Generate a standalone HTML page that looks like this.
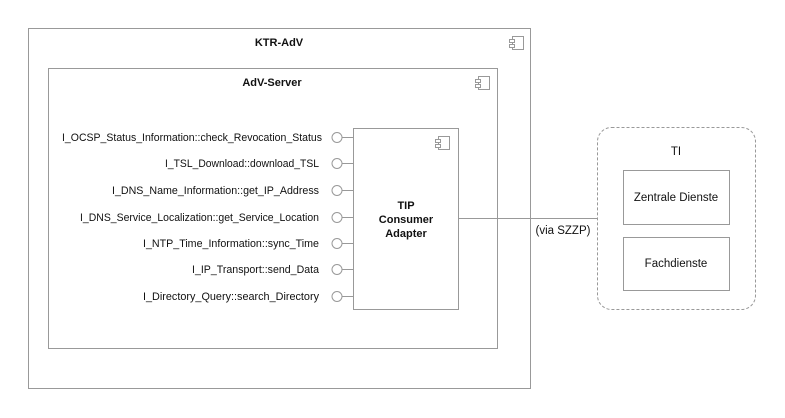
<!DOCTYPE html>
<html><head><meta charset="utf-8"><style>
html,body{margin:0;padding:0;background:#fff;}
svg{display:block;}
text{font-family:"Liberation Sans",sans-serif;fill:#111;}
</style></head><body>
<svg width="785" height="418" viewBox="0 0 785 418" xmlns="http://www.w3.org/2000/svg">
<g fill="none" stroke="#999" stroke-width="1">
<rect x="28.5" y="28.5" width="502" height="360"/>
<rect x="48.5" y="68.5" width="449" height="280"/>
<rect x="353.5" y="128.5" width="105" height="181"/>
<rect x="597.5" y="127.5" width="158" height="182" rx="14" stroke-dasharray="3,2"/>
<rect x="623.5" y="170.5" width="106" height="54"/>
<rect x="623.5" y="237.5" width="106" height="53"/>
<line x1="458.5" y1="218.5" x2="597.5" y2="218.5"/>
<rect x="512.5" y="36.5" width="11" height="13"/><rect x="509.5" y="39.5" width="5" height="3" fill="#fff"/><rect x="509.5" y="44.5" width="5" height="3" fill="#fff"/>
<rect x="478.5" y="76.5" width="11" height="13"/><rect x="475.5" y="79.5" width="5" height="3" fill="#fff"/><rect x="475.5" y="84.5" width="5" height="3" fill="#fff"/>
<rect x="438.5" y="136.5" width="11" height="13"/><rect x="435.5" y="139.5" width="5" height="3" fill="#fff"/><rect x="435.5" y="144.5" width="5" height="3" fill="#fff"/>
</g>
<g fill="#fff" stroke="#999">
<line x1="342" y1="137.5" x2="353" y2="137.5"/><circle cx="337" cy="137.5" r="5"/>
<line x1="342" y1="163.5" x2="353" y2="163.5"/><circle cx="337" cy="163.5" r="5"/>
<line x1="342" y1="190.5" x2="353" y2="190.5"/><circle cx="337" cy="190.5" r="5"/>
<line x1="342" y1="217.5" x2="353" y2="217.5"/><circle cx="337" cy="217.5" r="5"/>
<line x1="342" y1="243.5" x2="353" y2="243.5"/><circle cx="337" cy="243.5" r="5"/>
<line x1="342" y1="269.5" x2="353" y2="269.5"/><circle cx="337" cy="269.5" r="5"/>
<line x1="342" y1="296.5" x2="353" y2="296.5"/><circle cx="337" cy="296.5" r="5"/>
</g>
<g font-size="11" font-weight="bold" text-anchor="middle">
<text x="279" y="46">KTR-AdV</text>
<text x="272" y="86">AdV-Server</text>
<text x="406" y="209">TIP</text>
<text x="406" y="223">Consumer</text>
<text x="406" y="237">Adapter</text>
</g>
<g font-size="11.3" text-anchor="end">
<text x="322" y="141" textLength="260" lengthAdjust="spacingAndGlyphs">I_OCSP_Status_Information::check_Revocation_Status</text>
<text x="319" y="167" textLength="154" lengthAdjust="spacingAndGlyphs">I_TSL_Download::download_TSL</text>
<text x="319" y="194" textLength="207" lengthAdjust="spacingAndGlyphs">I_DNS_Name_Information::get_IP_Address</text>
<text x="319" y="221" textLength="239" lengthAdjust="spacingAndGlyphs">I_DNS_Service_Localization::get_Service_Location</text>
<text x="319" y="247" textLength="176" lengthAdjust="spacingAndGlyphs">I_NTP_Time_Information::sync_Time</text>
<text x="319" y="273" textLength="127" lengthAdjust="spacingAndGlyphs">I_IP_Transport::send_Data</text>
<text x="319" y="300" textLength="176" lengthAdjust="spacingAndGlyphs">I_Directory_Query::search_Directory</text>
</g>
<g font-size="11.5" text-anchor="middle">
<text x="676" y="155">TI</text>
<text x="676" y="201">Zentrale Dienste</text>
<text x="676" y="267">Fachdienste</text>
<text x="563" y="234">(via SZZP)</text>
</g>
</svg>
</body></html>
